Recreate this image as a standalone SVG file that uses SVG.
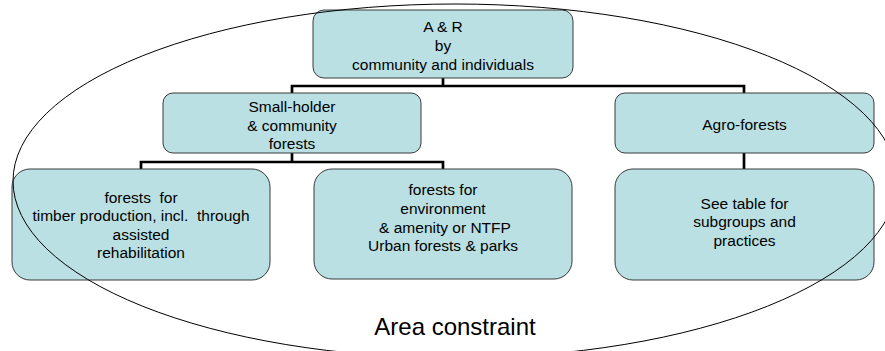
<svg xmlns="http://www.w3.org/2000/svg" width="885" height="351" viewBox="0 0 885 351">
<style>
.box{fill:#BAE0E3;stroke:#3a3a3a;stroke-width:1}
.t{font-family:"Liberation Sans",Arial,sans-serif;font-size:15.5px;fill:#000;text-anchor:middle}
.conn{fill:none;stroke:#000;stroke-width:2.7;stroke-linejoin:miter}
.big{font-family:"Liberation Sans",Arial,sans-serif;font-size:24px;fill:#000;text-anchor:middle}
</style>
<rect width="885" height="351" fill="#fff"/>
<g id="connectors">
<path class="conn" d="M443,78 V86 M292,93 V86 H744 V93"/>
<path class="conn" d="M292,153 V162 M141,169 V162 H443 V169"/>
<path class="conn" d="M744,153 V169"/>
</g>
<g id="node-ar">
<rect class="box" x="313" y="10" width="260" height="68" rx="11"/>
<text class="t" x="443" y="31.5">A &amp; R</text>
<text class="t" x="443" y="50.5">by</text>
<text class="t" x="443" y="69.5">community and individuals</text>
</g>
<g id="node-smallholder">
<rect class="box" x="163" y="93" width="258" height="60" rx="10"/>
<text class="t" x="292" y="111.5">Small-holder</text>
<text class="t" x="292" y="130.5">&amp; community</text>
<text class="t" x="292" y="149">forests</text>
</g>
<g id="node-agro">
<rect class="box" x="615" y="93" width="259" height="60" rx="10"/>
<text class="t" x="744.5" y="130">Agro-forests</text>
</g>
<g id="node-timber">
<rect class="box" x="12" y="169" width="258" height="111" rx="18"/>
<text class="t" x="141" y="202.5" xml:space="preserve">forests  for</text>
<text class="t" x="141" y="221" xml:space="preserve">timber production, incl.  through</text>
<text class="t" x="141" y="239.5">assisted</text>
<text class="t" x="141" y="257.5">rehabilitation</text>
</g>
<g id="node-environment">
<rect class="box" x="314" y="169" width="258" height="110" rx="18"/>
<text class="t" x="443" y="195">forests for</text>
<text class="t" x="443" y="213.5">environment</text>
<text class="t" x="445" y="232.5">&amp; amenity or NTFP</text>
<text class="t" x="443" y="251">Urban forests &amp; parks</text>
</g>
<g id="node-table">
<rect class="box" x="615" y="169" width="259" height="111" rx="18"/>
<text class="t" x="744.5" y="208.5">See table for</text>
<text class="t" x="744.5" y="227">subgroups and</text>
<text class="t" x="744.5" y="245.5">practices</text>
</g>
<g id="area-constraint">
<ellipse cx="455" cy="181" rx="442" ry="177" fill="none" stroke="#000" stroke-width="1"/>
<text class="big" x="455" y="335">Area constraint</text>
</g>
</svg>
